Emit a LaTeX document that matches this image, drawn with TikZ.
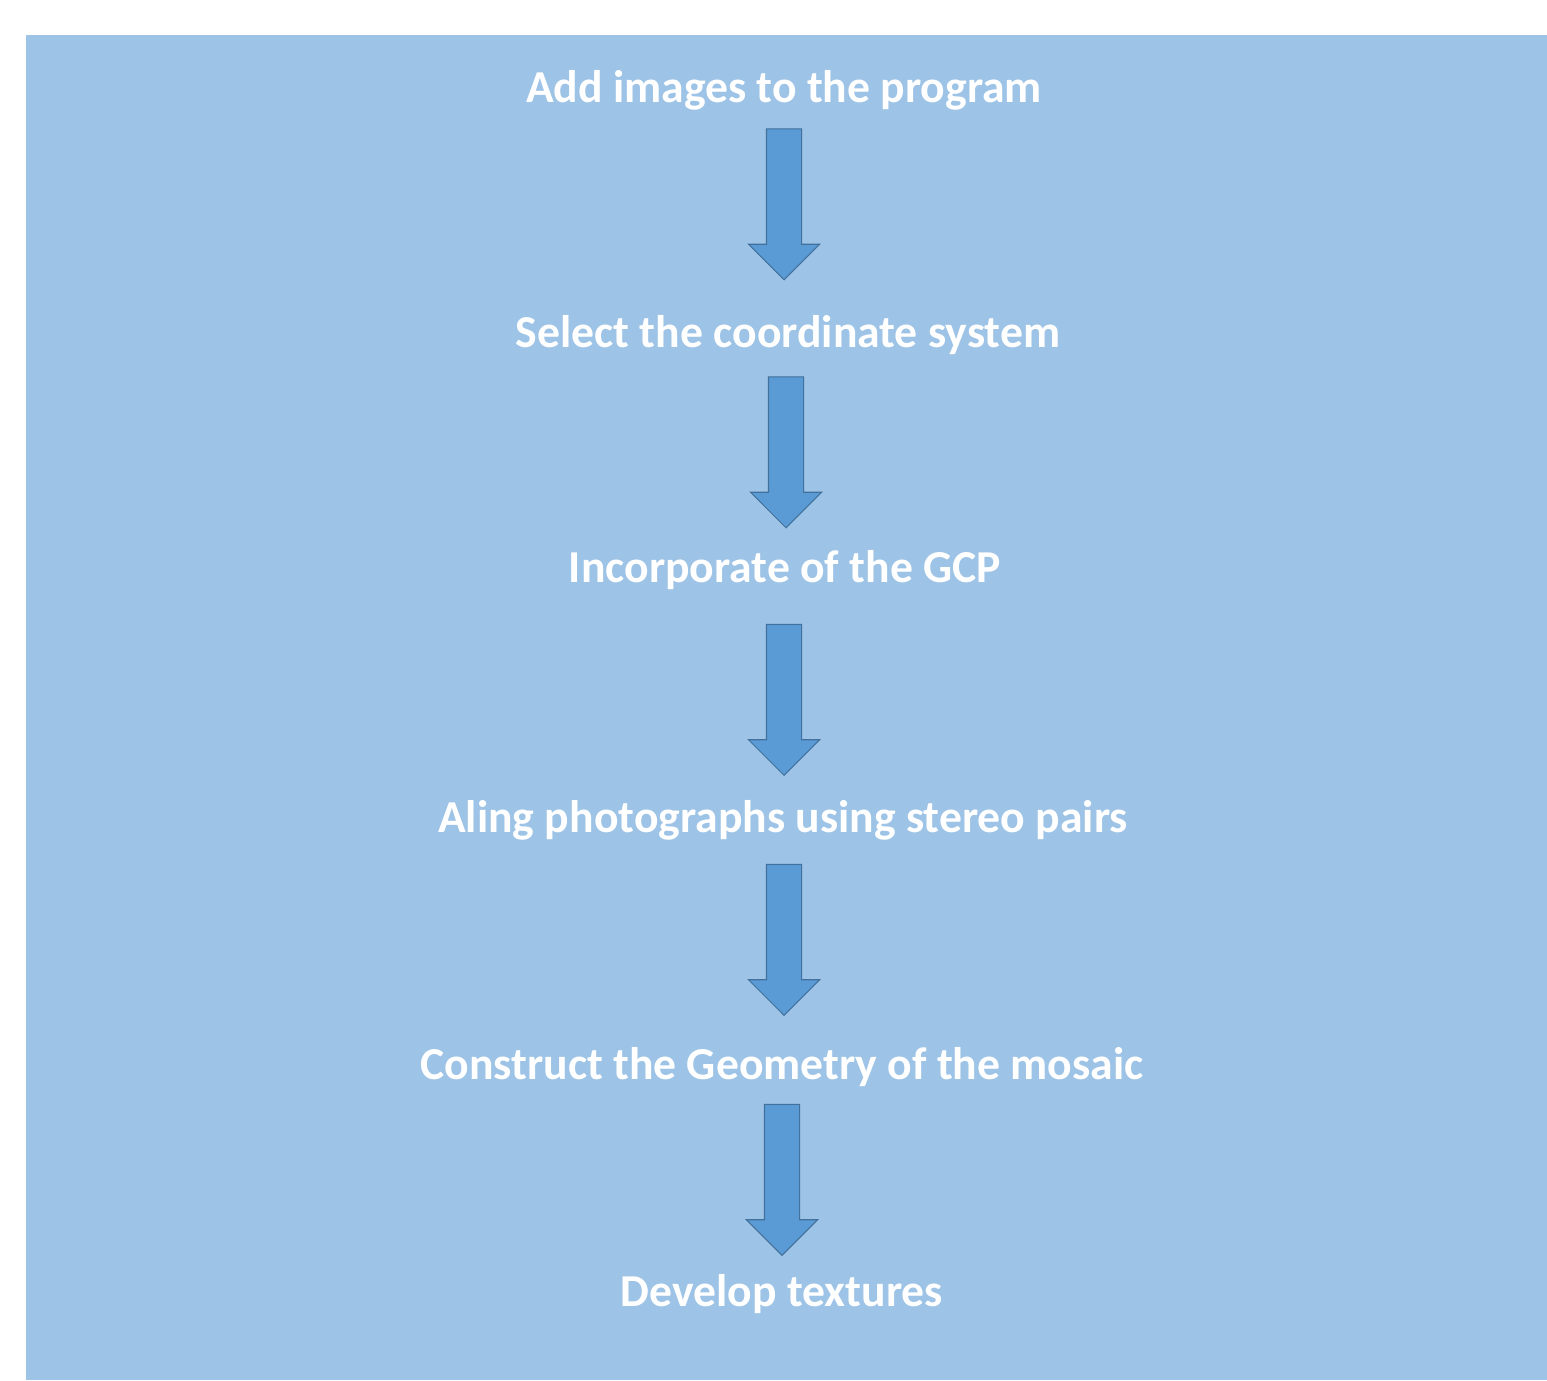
\documentclass[tikz,border=0pt]{standalone}
\usepackage{fontspec}
\usetikzlibrary{shapes.arrows}
\newfontfamily\stepfont{Carlito}

\definecolor{panelblue}{HTML}{9DC3E6}
\definecolor{arrowfill}{HTML}{5B9BD5}
\definecolor{arrowline}{HTML}{41719C}

\tikzset{
  steptext/.style={text=white, inner sep=0pt,
    font=\stepfont\bfseries\fontsize{26}{31}\selectfont},
  downarrow/.style={single arrow, rotate=-90, draw=arrowline, fill=arrowfill,
    line width=0.6pt, inner sep=0pt, text height=0.68cm, text depth=0pt,
    minimum height=3.02cm, single arrow head extend=0.36cm},
}

\begin{document}
\begin{tikzpicture}[x=0.02cm,y=-0.02cm]
                \useasboundingbox (0,0) rectangle (1547,1380);
                \fill[white] (0,0) rectangle (1547,1380);
                \fill[panelblue] (26,35) rectangle (1547,1380);

                \node[steptext] (add) at (784,90) {Add images to the program};
                \node[steptext] (select) at (788,335) {Select the coordinate system};
                \node[steptext] (gcp) at (785,570) {Incorporate of the GCP};
                \node[steptext] (aling) at (783,820) {Aling photographs using stereo pairs};
                \node[steptext] (geometry) at (782,1067) {Construct the Geometry of the mosaic};
                \node[steptext] (textures) at (782,1294) {Develop textures};

                \node[downarrow] (arrA) at (784,195.5) {};
                \node[downarrow] (arrB) at (786,443.5) {};
                \node[downarrow] (arrC) at (784,691) {};
                \node[downarrow] (arrD) at (784,931) {};
                \node[downarrow] (arrE) at (782,1171) {};
            \end{tikzpicture}
\end{document}
